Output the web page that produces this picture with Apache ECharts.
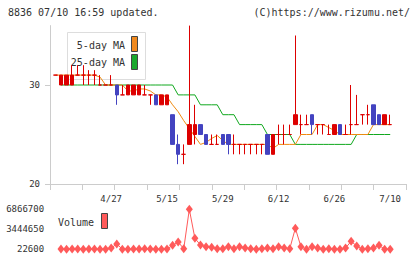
<!DOCTYPE html>
<html>
<head>
<meta charset="utf-8">
<title>8836 chart</title>
<script src="https://cdn.jsdelivr.net/npm/echarts@6/dist/echarts.min.js"></script>
<style>
  html, body { margin: 0; padding: 0; background: #fff; }
  #chart { width: 420px; height: 259px; }
</style>
</head>
<body>
<div id="chart"></div>
<script>
  // trading days shown on the chart
  const dates = ['4/13', '4/14', '4/15', '4/16', '4/17', '4/20', '4/21', '4/22', '4/23', '4/24',
    '4/27', '4/28', '4/30', '5/1', '5/7', '5/8', '5/11', '5/12', '5/13', '5/14',
    '5/15', '5/18', '5/19', '5/20', '5/21', '5/22', '5/25', '5/26', '5/27', '5/28',
    '5/29', '6/1', '6/2', '6/3', '6/4', '6/5', '6/8', '6/9', '6/10', '6/11',
    '6/12', '6/15', '6/16', '6/17', '6/18', '6/19', '6/22', '6/23', '6/24', '6/25',
    '6/26', '6/29', '6/30', '7/1', '7/2', '7/3', '7/6', '7/7', '7/8', '7/9', '7/10']
  const dateLabels = ['4/27', '5/15', '5/29', '6/12', '6/26', '7/10']

  // [open, close, low, high]
  const ohlc = [
    [31, 31, 31, 31], [30, 31, 30, 31], [30, 31, 30, 31], [30, 31, 30, 32], [31, 31, 31, 32],
    [31, 31, 30, 32], [31, 31, 30, 31.5], [31, 31, 30, 31.5], [30, 30, 30, 31], [30, 30, 30, 30],
    [30, 30, 30, 31], [30, 29, 28, 30], [29, 29, 29, 30], [29, 30, 29, 30], [29, 30, 29, 30],
    [29, 30, 29, 30], [29, 29, 29, 30], [29, 29, 28, 29], [29, 28, 28, 29], [28, 29, 28, 29],
    [28, 29, 28, 29], [27, 24, 24, 27], [24, 23, 22, 25], [23, 23, 22, 24], [24, 26, 24, 36],
    [25, 26, 24, 28], [26, 25, 25, 26], [25, 24, 24, 25], [24, 24, 24, 25], [24, 24, 24, 25],
    [25, 24, 24, 25], [25, 24, 23, 25], [24, 24, 23, 25], [24, 24, 23, 24], [24, 24, 23, 24],
    [24, 24, 23, 24], [24, 24, 23, 24], [24, 24, 23, 24], [25, 23, 23, 25], [23, 25, 23, 25],
    [25, 25, 24, 26], [25, 25, 24, 26], [25, 25, 25, 26], [26, 27, 26, 35], [26, 26, 25, 27],
    [26, 26, 26, 27], [27, 26, 25, 27], [26, 26, 25, 26], [26, 26, 25, 26], [25, 25, 25, 26],
    [25, 26, 25, 26], [26, 25, 25, 26], [25, 25, 25, 26], [26, 26, 25, 30], [26, 26, 26, 29],
    [27, 27, 26, 27], [27, 27, 26, 28], [28, 26, 26, 28], [27, 26, 26, 27], [26, 27, 26, 27],
    [26, 26, 26, 27]
  ]
  const ma5 = [31, 31, 31, 31, 31, 31, 31, 31, 30.8, 30,
    30, 30, 30, 29.4, 29.4, 29.6, 29.6, 29.4, 29, 29,
    28.8, 28, 27.3, 26.4, 25.6, 24.8, 24, 24.2, 24.6, 24.9,
    24.4, 24, 24, 24, 24, 24, 24, 24, 24, 23.6,
    24, 24, 24, 24, 25, 25, 25, 26, 26, 25.7,
    25.4, 25, 25, 25, 25, 25, 25, 26, 26, 26, 26]
  const ma25 = [null, 30, 30, 30, 30, 30, 30, 30, 30, 30,
    30, 30, 30, 30, 30, 30, 30, 30, 30, 30,
    30, 30, 29, 29, 29, 29, 28, 28, 28, 28,
    27, 27, 27, 26, 26, 26, 26, 26, 25, 25,
    25, 25, 25, 24, 24, 24, 24, 24, 24, 24,
    24, 24, 24, 24, 25, 25, 25, 25, 25, 25, 25]
  const volume = [null, 60000, 50000, 55000, 60000, 50000, 55000, 60000, 30000, 50000,
    245000, 930000, 40000, 30000, 60000, 55000, 125000, 60000, 50000, 30000,
    60000, 700000, 1270000, 125000, 6866700, 1900000, 760000, 467000, 360000, 125000,
    125000, 467000, 125000, 467000, 245000, 125000, 22600, 125000, 245000, 125000,
    467000, 245000, 125000, 3620000, 467000, 40000, 467000, 245000, 40000, 125000,
    40000, 40000, 245000, 1390000, 587000, 40000, 125000, 245000, 707000, 40000, 40000]
  const priceTicks = [20, 30]
  const volumeTicks = [22600, 3444650, 6866700]

  const mono = 'DejaVu Sans Mono'
  const axisGray = '#cccccc'
  const textGray = '#333333'

  const chart = echarts.init(document.getElementById('chart'), null, { renderer: 'svg' })
  const option = {
    animation: false,
    backgroundColor: '#fff',
    title: [
      {
        text: '8836 07/10 16:59 updated.',
        left: 8,
        top: 7,
        padding: 0,
        textStyle: { fontFamily: mono, fontSize: 10, fontWeight: 'normal', color: textGray }
      },
      {
        text: '(C)https://www.rizumu.net/',
        right: 10,
        top: 7,
        padding: 0,
        textStyle: { fontFamily: mono, fontSize: 10, fontWeight: 'normal', color: textGray }
      }
    ],
    grid: [
      // frame with axes
      { left: 50, right: 14, top: 25.6, bottom: 75 },
      // candles
      { left: 52.6, right: 27, top: 25.6, bottom: 75 },
      // volume
      { left: 52.6, right: 27, top: 209.3, bottom: 9.7 }
    ],
    xAxis: [
      {
        gridIndex: 0,
        type: 'value',
        min: 0,
        max: 11,
        interval: 1,
        axisLine: { onZero: false, lineStyle: { color: axisGray } },
        axisTick: { length: 6, lineStyle: { color: axisGray } },
        axisLabel: { show: false },
        splitLine: { show: false }
      },
      {
        gridIndex: 1,
        type: 'category',
        data: dates,
        axisLine: { show: false },
        axisTick: { show: false },
        axisLabel: {
          interval: (index, value) => dateLabels.indexOf(value) >= 0,
          margin: 10,
          fontFamily: mono,
          fontSize: 9,
          color: textGray
        },
        splitLine: { show: false }
      },
      {
        gridIndex: 2,
        type: 'category',
        data: dates,
        show: false
      }
    ],
    yAxis: [
      {
        gridIndex: 0,
        type: 'value',
        min: 20,
        max: 36,
        axisLine: { show: true, onZero: false, lineStyle: { color: axisGray } },
        axisTick: { show: true, length: 5, customValues: priceTicks, lineStyle: { color: axisGray } },
        axisLabel: { customValues: priceTicks, margin: 10, fontFamily: mono, fontSize: 9, color: textGray },
        splitLine: { show: false }
      },
      { gridIndex: 1, type: 'value', min: 20, max: 36, show: false },
      {
        gridIndex: 2,
        type: 'value',
        min: 22600,
        max: 6866700,
        axisLine: { show: false },
        axisTick: { show: false },
        axisLabel: {
          customValues: volumeTicks,
          formatter: (v) => String(v),
          margin: 8.5,
          fontFamily: mono,
          fontSize: 9,
          color: textGray
        },
        splitLine: { show: false }
      }
    ],
    graphic: [
      // MA legend box
      { type: 'rect', left: 65, top: 30, z: 0, shape: { width: 78, height: 47 }, style: { fill: 'none', stroke: '#dddddd', lineWidth: 1 } },
      { type: 'text', right: 420 - 125, top: 40, z: 0, style: { text: '5-day MA', font: '10px ' + mono, fill: textGray } },
      { type: 'rect', left: 131, top: 36, z: 0, shape: { width: 6, height: 15 }, style: { fill: '#f0891e', stroke: '#444444', lineWidth: 1 } },
      { type: 'text', right: 420 - 125, top: 57, z: 0, style: { text: '25-day MA', font: '10px ' + mono, fill: textGray } },
      { type: 'rect', left: 131, top: 54, z: 0, shape: { width: 6, height: 15 }, style: { fill: '#1aa82c', stroke: '#444444', lineWidth: 1 } },
      // volume legend
      { type: 'text', left: 58, top: 217, z: 0, style: { text: 'Volume', font: '10px ' + mono, fill: textGray } },
      { type: 'rect', left: 101, top: 213, z: 0, shape: { width: 6, height: 15 }, style: { fill: '#ff5a5a', stroke: '#444444', lineWidth: 1 } }
    ],
    series: [
      {
        name: '25-day MA',
        type: 'line',
        xAxisIndex: 1,
        yAxisIndex: 1,
        data: ma25,
        symbol: 'none',
        lineStyle: { color: '#10a81e', width: 1 },
        z: 2
      },
      {
        name: '5-day MA',
        type: 'line',
        xAxisIndex: 1,
        yAxisIndex: 1,
        data: ma5,
        symbol: 'none',
        lineStyle: { color: '#f08a10', width: 1 },
        z: 2
      },
      {
        name: 'price',
        type: 'candlestick',
        xAxisIndex: 1,
        yAxisIndex: 1,
        data: ohlc,
        barWidth: 4,
        itemStyle: {
          color: '#dd0000',
          color0: '#4343c0',
          borderColor: '#dd0000',
          borderColor0: '#4343c0',
          borderColorDoji: '#dd0000',
          borderWidth: 1
        },
        z: 3
      },
      {
        name: 'Volume',
        type: 'line',
        xAxisIndex: 2,
        yAxisIndex: 2,
        data: volume,
        symbol: 'diamond',
        symbolSize: [7, 9],
        showAllSymbol: true,
        itemStyle: { color: '#ff5a5a' },
        lineStyle: { color: '#ff5a5a', width: 1 },
        z: 3
      }
    ]
  }
  chart.setOption(option)
</script>
</body>
</html>
